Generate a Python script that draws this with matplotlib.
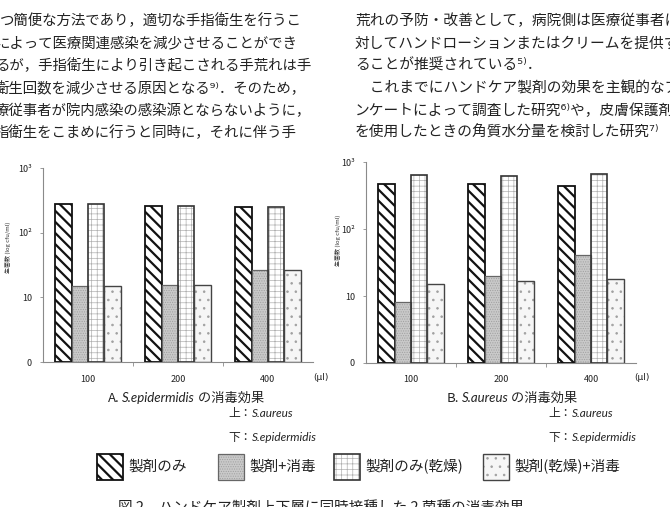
import matplotlib
matplotlib.use('Agg')
import matplotlib.pyplot as plt
from matplotlib.patches import Rectangle
from matplotlib.ticker import FixedLocator, NullLocator, FixedFormatter
import numpy as np

W, H = 670, 507
plt.rcParams['font.family'] = ['Noto Sans CJK JP', 'DejaVu Sans']

# ---------------- data ----------------
volumes = ['100', '200', '400']
series_names = ['製剤のみ', '製剤+消毒', '製剤のみ(乾燥)', '製剤(乾燥)+消毒']
y_ticks = [1, 10, 100, 1000]
y_tick_labels = ['0', '10', '10²', '10³']

# A. S.epidermidis (cfu/ml)
a_only = [275, 263, 251]
a_disinf = [15, 15.5, 26]
a_dry = [275, 263, 251]
a_dry_disinf = [15, 15.5, 26]

# B. S.aureus (cfu/ml)
b_only = [468, 468, 437]
b_disinf = [8, 20, 41]
b_dry = [631, 617, 661]
b_dry_disinf = [15, 16.6, 17.8]

body_left = [
    "つ簡便な方法であり，適切な手指衛生を行うこ",
    "によって医療関連感染を減少させることができ",
    "るが，手指衛生により引き起こされる手荒れは手",
    "衛生回数を減少させる原因となる⁹⁾．そのため，",
    "療従事者が院内感染の感染源とならないように，",
    "指衛生をこまめに行うと同時に，それに伴う手",
]
body_right = [
    "荒れの予防・改善として，病院側は医療従事者に",
    "対してハンドローションまたはクリームを提供す",
    "ることが推奨されている⁵⁾．",
    "　これまでにハンドケア製剤の効果を主観的なア",
    "ンケートによって調査した研究⁶⁾や，皮膚保護剤",
    "を使用したときの角質水分量を検討した研究⁷⁾",
]

# ---------------- styles ----------------
styles = [
    dict(face='white', hatch='\\\\\\', hcol='#111111', edge='#111111', lw=1.3, hlw=1.6),
    dict(face='#c9c9c9', hatch='.......', hcol='#a0a0a0', edge='#666666', lw=0.9, hlw=0.5),
    dict(face='white', hatch='+++', hcol='#b0b0b0', edge='#333333', lw=1.2, hlw=0.5),
    dict(face='#f6f6f6', hatch='..', hcol='#a0a0a0', edge='#444444', lw=1.0, hlw=0.6),
]

fig = plt.figure(figsize=(W / 100, H / 100), dpi=100)
fig.patch.set_facecolor('white')


def fx(x):
    return x / W


def fy(y):
    return 1 - y / H


# ---------------- body text ----------------
line_y = [21, 43.5, 66, 88.3, 110.5, 133]
for i, s in enumerate(body_left):
    xs = 0 if i == 0 else -5
    fig.text(fx(xs), fy(line_y[i]), s, fontsize=10.4, color='#222222',
             va='center', ha='left', family=['Noto Sans CJK JP', 'DejaVu Sans'])
for i, s in enumerate(body_right):
    fig.text(fx(355), fy(line_y[i]), s, fontsize=10.6, color='#222222',
             va='center', ha='left', family=['Noto Sans CJK JP', 'DejaVu Sans'])


def draw_bars(ax, x, vals, st, width):
    plt.rcParams['hatch.linewidth'] = st['hlw']
    ax.bar(x, np.array(vals) - 1, width, bottom=1, color=st['face'],
           edgecolor=st['hcol'], hatch=st['hatch'], linewidth=0, zorder=2)
    ax.bar(x, np.array(vals) - 1, width, bottom=1, fill=False,
           edgecolor=st['edge'], linewidth=st['lw'], zorder=3)


def make_axes(left, right, bottom, top, groups, ylab_x, ylab_y, unit_x):
    ax = fig.add_axes([fx(left), fy(bottom), fx(right) - fx(left), fy(top) - fy(bottom)])
    ax.set_yscale('log')
    ax.set_ylim(1, 1000)
    ax.set_xlim(-0.5, 2.5)
    x = np.arange(len(volumes))
    w = 0.183
    for k, (vals, st) in enumerate(zip(groups, styles)):
        draw_bars(ax, x + (k - 1.5) * w, vals, st, w)
    for s in ['top', 'right']:
        ax.spines[s].set_visible(False)
    for s in ['left', 'bottom']:
        ax.spines[s].set_color('#8a8a8a')
        ax.spines[s].set_linewidth(0.8)
    ax.yaxis.set_major_locator(FixedLocator(y_ticks))
    ax.yaxis.set_major_formatter(FixedFormatter(y_tick_labels))
    ax.yaxis.set_minor_locator(NullLocator())
    ax.tick_params(axis='y', length=2, width=0.6, color='#8a8a8a', labelsize=6.5,
                   pad=6, labelcolor='#222222')
    ax.xaxis.set_major_locator(FixedLocator([0.5, 1.5]))
    ax.xaxis.set_major_formatter(FixedFormatter(['', '']))
    ax.xaxis.set_minor_locator(FixedLocator(x))
    ax.xaxis.set_minor_formatter(FixedFormatter(volumes))
    ax.tick_params(axis='x', which='major', length=3, width=0.6, color='#8a8a8a')
    ax.tick_params(axis='x', which='minor', length=0, labelsize=6.5, pad=9,
                   labelcolor='#222222')
    ax.set_facecolor('none')
    fig.text(fx(ylab_x), fy(ylab_y), '生菌数 (log cfu/ml)', rotation=90,
             fontsize=4.3, va='center', ha='center', color='#333333')
    fig.text(fx(unit_x), fy(378), '(μl)', fontsize=6.5, va='center', ha='center',
             color='#222222', family=['DejaVu Sans'])
    return ax


axA = make_axes(43, 313, 362, 168, [a_only, a_disinf, a_dry, a_dry_disinf], 8, 247, 321)
axB = make_axes(366, 636, 363, 162, [b_only, b_disinf, b_dry, b_dry_disinf], 338, 240, 642)

# ---------------- mixed-font captions ----------------
fig.canvas.draw()
renderer = fig.canvas.get_renderer()


def rich(xc, y, parts, size, ha='center'):
    texts, widths = [], []
    for s, kw in parts:
        t = fig.text(0, fy(y), s, fontsize=size, va='baseline', ha='left',
                     color='#222222', **kw)
        bb = t.get_window_extent(renderer=renderer)
        texts.append(t)
        widths.append(bb.width)
    total = sum(widths)
    x0 = xc - total / 2 if ha == 'center' else xc
    cum = x0
    for t, wdt in zip(texts, widths):
        t.set_x(fx(cum))
        cum += wdt


jp = dict(family=['Noto Sans CJK JP', 'DejaVu Sans'])
it = dict(family=['Lato', 'DejaVu Sans'], style='italic')
rich(186, 402, [('A.', jp), (' ', jp), ('S.epidermidis', it), (' の消毒効果', jp)], 9.5)
rich(512, 402, [('B.', jp), (' ', jp), ('S.aureus', it), (' の消毒効果', jp)], 9.5)
rich(228, 417, [('上：', jp), ('S.aureus', it)], 8.5, ha='left')
rich(228, 441, [('下：', jp), ('S.epidermidis', it)], 8.5, ha='left')
rich(548, 417, [('上：', jp), ('S.aureus', it)], 8.5, ha='left')
rich(548, 441, [('下：', jp), ('S.epidermidis', it)], 8.5, ha='left')

# ---------------- legend ----------------
leg_x = [97, 218, 334, 483]
for lx, name, st in zip(leg_x, series_names, styles):
    plt.rcParams['hatch.linewidth'] = st['hlw']
    r1 = Rectangle((fx(lx), fy(480)), fx(26), 26 / H, transform=fig.transFigure,
                   facecolor=st['face'], edgecolor=st['hcol'], hatch=st['hatch'],
                   linewidth=0)
    r2 = Rectangle((fx(lx), fy(480)), fx(26), 26 / H, transform=fig.transFigure,
                   fill=False, edgecolor=st['edge'], linewidth=st['lw'])
    fig.add_artist(r1)
    fig.add_artist(r2)
    fig.text(fx(lx + 31), fy(467), name, fontsize=10.5, va='center', ha='left',
             color='#222222')

# ---------------- figure caption (cut at bottom) ----------------
fig.text(fx(118), fy(508), '図 2　ハンドケア製剤上下層に同時接種した 2 菌種の消毒効果',
         fontsize=10.5, va='center', ha='left', color='#222222')

fig.savefig('out.png', dpi=100, facecolor='white')
